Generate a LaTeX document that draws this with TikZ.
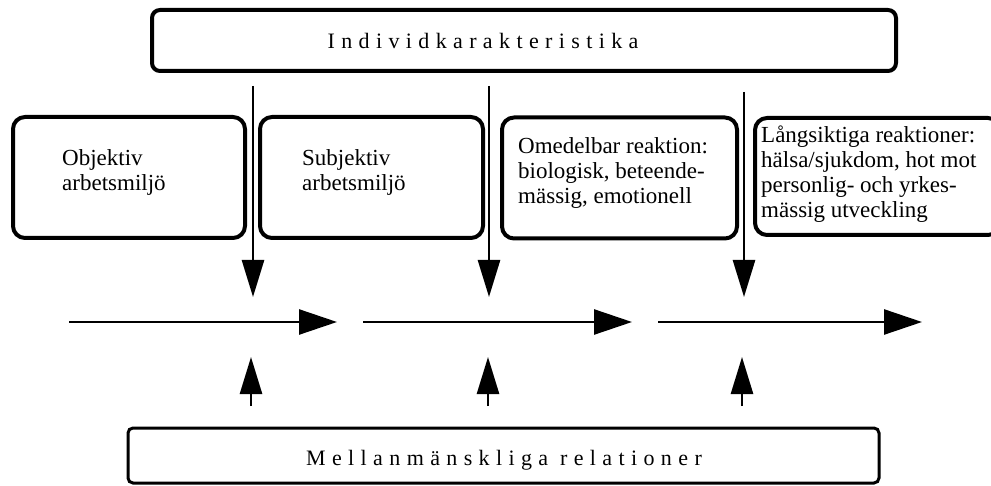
\documentclass[tikz,border=0pt]{standalone}
\usepackage{fontspec}
\setmainfont{Liberation Serif}
\usetikzlibrary{arrows.meta,positioning}

\begin{document}
\begin{tikzpicture}[x=1pt,y=-1pt]
\tikzset{
  bigbox/.style={draw, rounded corners=8pt, line width=4pt, inner sep=0pt},
  stepbox/.style={draw, rounded corners=12pt, line width=4pt, inner sep=0pt, minimum height=121pt},
  boxtext/.style={anchor=north west, align=left, inner sep=0pt, font=\fontsize{23}{25}\selectfont},
  spaced/.style={inner sep=0pt, font=\fontsize{22}{24}\selectfont\addfontfeature{LetterSpace=29}},
  arr/.style={line width=2.6pt, -{Triangle[length=37pt,width=22pt]}},
  harr/.style={line width=2.6pt, -{Triangle[length=38pt,width=25pt]}}
}
\useasboundingbox (0,0) rectangle (991,486);
% top and bottom boxes
\node[bigbox, minimum width=744pt, minimum height=61pt] (indbox) at (524,40.5) {};
\node[spaced] (indtext) at (483,41) {Individkarakteristika};
\node[bigbox, rounded corners=5pt, line width=3pt, minimum width=751pt, minimum height=55pt] (relbox) at (503.5,455.5) {};
\node[spaced] (reltext) at (504,460) {Mellanmänskliga relationer};
% the four steps
\node[stepbox, minimum width=232pt] (objbox) at (129,177.5) {};
\node[stepbox, minimum width=223pt] (subbox) at (371.5,177.5) {};
\node[stepbox, minimum width=235pt] (omebox) at (619.5,178) {};
\node[stepbox, minimum width=245pt, minimum height=117pt] (langbox) at (877.5,176.5) {};
\node[boxtext] (objtext) at (62,149) {Objektiv\\arbetsmiljö};
\node[boxtext] (subtext) at (302,149) {Subjektiv\\arbetsmiljö};
\node[boxtext] (ometext) at (518,137) {Omedelbar reaktion:\\biologisk, beteende-\\mässig, emotionell};
\node[boxtext] (langtext) at (761,126) {Långsiktiga reaktioner:\\hälsa/sjukdom, hot mot\\personlig- och yrkes-\\mässig utveckling};
% arrow ends
\coordinate (d1) at (253,86);  \coordinate (d1e) at (253,297);
\coordinate (d2) at (489,86);  \coordinate (d2e) at (489,297);
\coordinate (d3) at (744,92);  \coordinate (d3e) at (744,297);
\coordinate (h1) at (69,322);  \coordinate (h1e) at (337,322);
\coordinate (h2) at (363,322); \coordinate (h2e) at (632,322);
\coordinate (h3) at (658,322); \coordinate (h3e) at (922,322);
\coordinate (u1) at (251,406); \coordinate (u1e) at (251,357);
\coordinate (u2) at (488,406); \coordinate (u2e) at (488,357);
\coordinate (u3) at (742,406); \coordinate (u3e) at (742,357);
\foreach \i in {1,2,3} {
  \draw[arr] (d\i) -- (d\i e);
  \draw[harr] (h\i) -- (h\i e);
  \draw[arr] (u\i) -- (u\i e);
}
\end{tikzpicture}
\end{document}
